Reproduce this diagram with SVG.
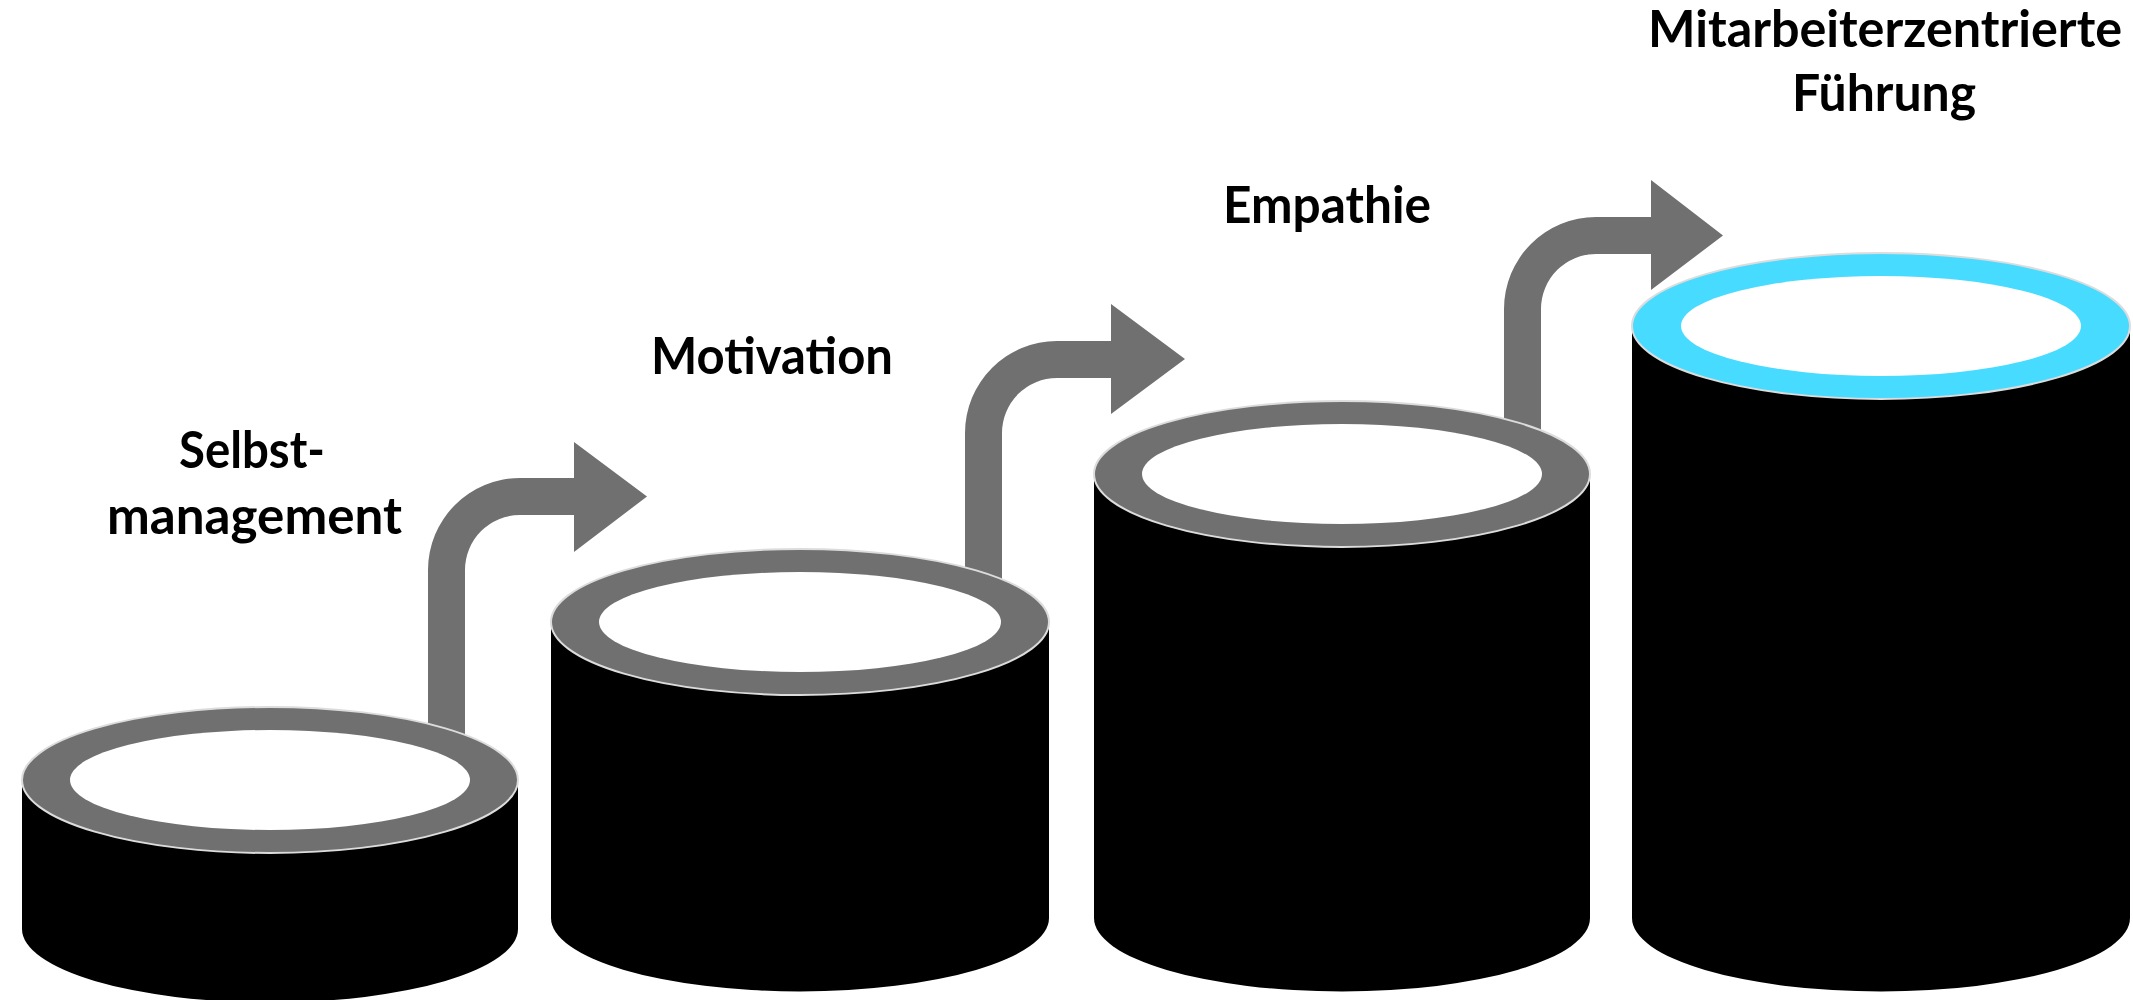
<svg xmlns="http://www.w3.org/2000/svg" width="2133" height="1000" viewBox="0 0 2133 1000">
  <style>
    .body { fill: #000000; }
    .rim { fill: #707070; stroke: #dcdcdc; stroke-width: 2; }
    .rim-hl { fill: #47dbff; stroke: #dcdcdc; stroke-width: 2; }
    .hole { fill: #ffffff; }
    .arrow { fill: #707070; }
    .lbl { font-family: Lato, "Open Sans", "Liberation Sans", sans-serif; font-weight: 700; font-size: 51px; fill: #000000; }
  </style>
  <rect x="0" y="0" width="2133" height="1000" fill="#ffffff"/>

  <g id="connectors">
    <path class="arrow" d="M428,745 L428,570 A92 92 0 0 1 520,478 L574,478 L574,442 L647,496.5 L574,552 L574,515 L520,515 A55 55 0 0 0 465,570 L465,745 Z"/>
    <path class="arrow" d="M965,595 L965,433 A92 92 0 0 1 1057,341 L1111,341 L1111,304 L1185,359 L1111,414 L1111,378 L1057,378 A55 55 0 0 0 1002,433 L1002,595 Z"/>
    <path class="arrow" d="M1504,445 L1504,309 A92 92 0 0 1 1596,217 L1651,217 L1651,180 L1723,235.5 L1651,290 L1651,254 L1596,254 A55 55 0 0 0 1541,309 L1541,445 Z"/>
  </g>

  <g id="node-selbstmanagement">
    <path class="body" d="M22,780 L22,929 A248 73.5 0 0 0 518,929 L518,780 Z"/>
    <ellipse class="rim" cx="270" cy="780" rx="248" ry="73"/>
    <ellipse class="hole" cx="270" cy="780" rx="200" ry="50"/>
    <text class="lbl" x="179" y="468" textLength="146" lengthAdjust="spacingAndGlyphs">Selbst-</text>
    <text class="lbl" x="107" y="534" textLength="295" lengthAdjust="spacingAndGlyphs">management</text>
  </g>

  <g id="node-motivation">
    <path class="body" d="M551,622 L551,918 A249 73.5 0 0 0 1049,918 L1049,622 Z"/>
    <ellipse class="rim" cx="800" cy="622" rx="249" ry="73"/>
    <ellipse class="hole" cx="800" cy="622" rx="201" ry="50"/>
    <text class="lbl" x="772" y="374" text-anchor="middle" textLength="242" lengthAdjust="spacingAndGlyphs">Motivation</text>
  </g>

  <g id="node-empathie">
    <path class="body" d="M1094,474 L1094,918 A248 73.5 0 0 0 1590,918 L1590,474 Z"/>
    <ellipse class="rim" cx="1342" cy="474" rx="248" ry="73"/>
    <ellipse class="hole" cx="1342" cy="474" rx="200" ry="50"/>
    <text class="lbl" x="1327" y="223" text-anchor="middle" textLength="208" lengthAdjust="spacingAndGlyphs">Empathie</text>
  </g>

  <g id="node-fuehrung">
    <path class="body" d="M1632,326 L1632,918 A249 73.5 0 0 0 2130,918 L2130,326 Z"/>
    <ellipse class="rim-hl" cx="1881" cy="326" rx="249" ry="73"/>
    <ellipse class="hole" cx="1881" cy="326" rx="200" ry="50"/>
    <text class="lbl" x="1885" y="47" text-anchor="middle" textLength="474" lengthAdjust="spacingAndGlyphs">Mitarbeiterzentrierte</text>
    <text class="lbl" x="1884" y="111" text-anchor="middle" textLength="184" lengthAdjust="spacingAndGlyphs">Führung</text>
  </g>
</svg>
